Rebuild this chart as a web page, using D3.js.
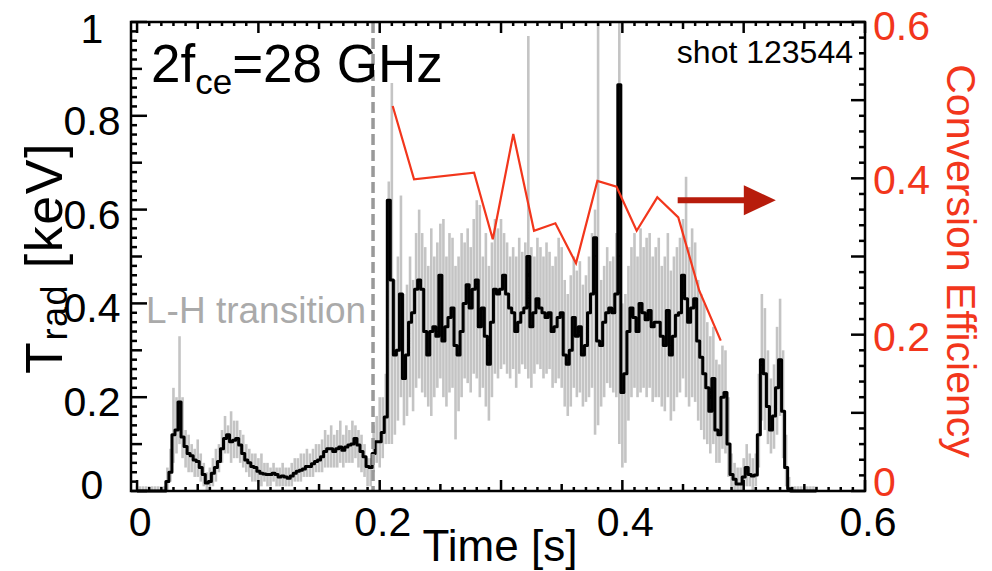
<!DOCTYPE html>
<html>
<head>
<meta charset="utf-8">
<script src="https://d3js.org/d3.v7.min.js"></script>
<style>
  body { margin: 0; background: #fff; }
  text { font-family: "Liberation Sans", Arial, Helvetica, sans-serif; }
</style>
</head>
<body>
<script>
// ECE signal, sampled every dt seconds from t0
var t0 = 0, dt = 0.0025;

// smoothed T_rad [keV] (black)
var tradSmooth = [
  0,0,0,0,0,0,0,0,0,0,
  0.02,0.04,0.12,0.13,0.19,0.115,0.095,0.08,0.075,0.066,
  0.063,0.05,0.035,0.017,0.02,0.038,0.05,0.063,0.09,0.112,
  0.12,0.105,0.108,0.112,0.098,0.08,0.066,0.06,0.052,0.05,
  0.042,0.038,0.036,0.035,0.035,0.038,0.035,0.03,0.032,0.03,
  0.027,0.032,0.038,0.042,0.044,0.047,0.052,0.052,0.058,0.063,
  0.066,0.073,0.084,0.09,0.09,0.084,0.09,0.094,0.087,0.094,
  0.098,0.1,0.112,0.098,0.084,0.073,0.052,0.05,0.08,0.105,
  0.105,0.125,0.158,0.62,0.45,0.29,0.30,0.42,0.24,0.29,
  0.36,0.38,0.43,0.45,0.43,0.34,0.29,0.34,0.35,0.33,
  0.46,0.32,0.35,0.37,0.39,0.31,0.29,0.34,0.40,0.44,
  0.39,0.43,0.45,0.35,0.39,0.33,0.27,0.36,0.43,0.42,
  0.43,0.46,0.42,0.39,0.38,0.34,0.36,0.38,0.39,0.50,
  0.35,0.38,0.41,0.39,0.38,0.37,0.38,0.34,0.35,0.37,
  0.38,0.29,0.27,0.30,0.37,0.33,0.35,0.29,0.31,0.38,
  0.42,0.54,0.32,0.31,0.36,0.38,0.39,0.38,0.42,0.866,
  0.21,0.25,0.34,0.39,0.37,0.34,0.40,0.38,0.365,0.385,
  0.35,0.36,0.36,0.33,0.31,0.385,0.29,0.33,0.375,0.38,
  0.46,0.41,0.36,0.39,0.41,0.32,0.285,0.25,0.22,0.17,
  0.24,0.13,0.12,0.20,0.21,0.10,0.035,0.025,0.015,0.015,
  0.03,0.05,0.035,0.032,0.034,0.12,0.28,0.25,0.18,0.13,
  0.16,0.22,0.28,0.17,0.05,0.005,0,0,0,0,
  0,0,0,0,0
];

// raw T_rad spread (grey): upper and lower values in each sample
var tradHigh = [
  0.01,0.01,0.01,0.01,0.01,0.01,0.01,0.01,0.01,0.01,
  0.05,0.09,0.22,0.2,0.33,0.2,0.13,0.12,0.1,0.09,
  0.11,0.08,0.06,0.04,0.05,0.07,0.09,0.1,0.13,0.16,
  0.14,0.17,0.15,0.15,0.13,0.12,0.1,0.09,0.08,0.08,
  0.07,0.08,0.06,0.06,0.05,0.06,0.05,0.05,0.06,0.05,
  0.05,0.06,0.07,0.07,0.08,0.08,0.09,0.08,0.09,0.1,
  0.1,0.11,0.13,0.12,0.14,0.12,0.13,0.15,0.12,0.14,
  0.13,0.15,0.14,0.13,0.12,0.1,0.07,0.07,0.14,0.16,
  0.2,0.2,0.25,0.66,0.87,0.45,0.5,0.63,0.42,0.44,
  0.5,0.45,0.55,0.6,0.55,0.52,0.48,0.56,0.5,0.53,
  0.57,0.58,0.5,0.55,0.54,0.48,0.5,0.55,0.53,0.56,
  0.52,0.58,0.62,0.61,0.5,0.55,0.48,0.53,0.58,0.56,
  0.58,0.55,0.53,0.5,0.52,0.5,0.54,0.51,0.53,0.97,
  0.52,0.5,0.54,0.52,0.5,0.53,0.51,0.48,0.5,0.54,
  0.52,0.45,0.42,0.46,0.5,0.47,0.49,0.44,0.46,0.5,
  0.55,0.6,1.0,0.45,0.48,0.52,0.49,0.5,0.55,1.0,
  0.4,0.42,0.48,0.52,0.55,0.5,0.56,0.52,0.54,0.55,
  0.5,0.52,0.54,0.48,0.5,0.55,0.47,0.5,0.52,0.54,
  0.58,0.67,0.52,0.56,0.53,0.45,0.42,0.4,0.36,0.33,
  0.35,0.28,0.27,0.31,0.3,0.2,0.08,0.06,0.05,0.05,
  0.07,0.1,0.08,0.07,0.08,0.25,0.42,0.39,0.3,0.24,
  0.27,0.35,0.41,0.3,0.12,0.03,0.01,0.01,0.01,0.01,
  0.01,0.01,0.01,0.01,0.01
];
var tradLow = [
  0,0,0,0,0,0,0,0,0,0,
  0,0.02,0.06,0.08,0.1,0.07,0.05,0.04,0.04,0.03,
  0.03,0.02,0.01,0,0,0.01,0.02,0.04,0.06,0.08,
  0.08,0.06,0.07,0.07,0.06,0.05,0.04,0.03,0.02,0.02,
  0.02,0.01,0.02,0.01,0.01,0.02,0.01,0.01,0.01,0.01,
  0.01,0.01,0.02,0.02,0.02,0.03,0.03,0.03,0.03,0.04,
  0.04,0.04,0.05,0.05,0.05,0.05,0.05,0.06,0.05,0.06,
  0.06,0.06,0.07,0.05,0.04,0.03,0.01,0.01,0.04,0.06,
  0.05,0.07,0.1,0.1,0.1,0.12,0.15,0.2,0.14,0.16,
  0.2,0.17,0.22,0.24,0.21,0.2,0.18,0.16,0.2,0.22,
  0.24,0.2,0.18,0.21,0.22,0.11,0.17,0.2,0.24,0.23,
  0.21,0.25,0.24,0.2,0.22,0.18,0.15,0.2,0.25,0.24,
  0.26,0.27,0.25,0.24,0.26,0.22,0.25,0.27,0.26,0.24,
  0.22,0.25,0.27,0.26,0.24,0.25,0.26,0.22,0.23,0.24,
  0.22,0.18,0.16,0.18,0.22,0.2,0.21,0.18,0.19,0.2,
  0.22,0.12,0.14,0.18,0.2,0.23,0.22,0.21,0.2,0.1,
  0.05,0.06,0.15,0.2,0.22,0.2,0.21,0.22,0.2,0.22,
  0.19,0.2,0.2,0.18,0.17,0.2,0.15,0.17,0.2,0.21,
  0.24,0.2,0.18,0.2,0.19,0.15,0.13,0.11,0.1,0.08,
  0.1,0.06,0.06,0.09,0.08,0.03,0,0,0,0,
  0,0.01,0.01,0,0.01,0.05,0.15,0.13,0.1,0.08,
  0.09,0.12,0.16,0.07,0.01,0,0,0,0,0,
  0,0,0,0,0
];

// conversion efficiency (red)
var effTime = [0.2107,0.2283,0.2778,0.2932,0.3101,0.3272,0.3448,0.3618,
               0.3794,0.3952,0.4118,0.4288,0.4461,0.4634,0.4811];
var effValue = [0.4925,0.3988,0.4072,0.3220,0.4567,0.3330,0.3425,0.2913,
                0.3966,0.3893,0.3330,0.3757,0.3501,0.2562,0.1923];

var lhTime = 0.1945;
var xTickLabels = [0, 0.2, 0.4, 0.6];
var yTickLabels = [0, 0.2, 0.4, 0.6, 0.8, 1];
var effTickLabels = [0, 0.2, 0.4, 0.6];

var width = 992, height = 571;
var pl = 131, pr = 865, pt = 22, pb = 491;
var red = "#f2361c";

var svg = d3.select("body").append("svg")
    .attr("width", width)
    .attr("height", height);

var x = d3.scaleLinear().domain([-0.005, 0.6]).range([pl, pr]);
var y = d3.scaleLinear().domain([0, 1]).range([pb, pt]);
var yEff = d3.scaleLinear().domain([0, 0.6]).range([pb, pt]);

var samples = tradSmooth.map(function(v, i) {
  return { t: t0 + i * dt, v: v, hi: tradHigh[i], lo: tradLow[i] };
});

// grey raw signal
svg.append("g").selectAll("line")
    .data(samples)
    .enter().append("line")
    .attr("x1", function(d) { return x(d.t); })
    .attr("x2", function(d) { return x(d.t); })
    .attr("y1", function(d) { return y(d.lo); })
    .attr("y2", function(d) { return y(d.hi); })
    .attr("stroke", "#c4c4c4")
    .attr("stroke-width", 2.6);

// black smoothed signal
svg.append("path")
    .datum(samples)
    .attr("fill", "none")
    .attr("stroke", "#000")
    .attr("stroke-width", 3)
    .attr("stroke-linejoin", "round")
    .attr("d", d3.line()
        .curve(d3.curveStep)
        .x(function(d) { return x(d.t); })
        .y(function(d) { return y(d.v); }));

// L-H transition marker
svg.append("line")
    .attr("x1", x(lhTime)).attr("x2", x(lhTime))
    .attr("y1", pt).attr("y2", pb)
    .attr("stroke", "#999")
    .attr("stroke-width", 3.5)
    .attr("stroke-dasharray", "11,5");

// conversion efficiency
var effData = effTime.map(function(t, i) { return [t, effValue[i]]; });
svg.append("path")
    .datum(effData)
    .attr("fill", "none")
    .attr("stroke", red)
    .attr("stroke-width", 2.2)
    .attr("d", d3.line()
        .x(function(d) { return x(d[0]); })
        .y(function(d) { return yEff(d[1]); }));

// arrow pointing to the right axis
var ay = y(0.62), ax0 = x(0.4456), ax1 = x(0.5265);
svg.append("line")
    .attr("x1", ax0).attr("x2", ax1 - 28)
    .attr("y1", ay).attr("y2", ay)
    .attr("stroke", "#b71c0c")
    .attr("stroke-width", 6);
svg.append("path")
    .attr("d", "M" + (ax1 - 32) + "," + (ay - 15) + "L" + ax1 + "," + ay + "L" + (ax1 - 32) + "," + (ay + 15) + "Z")
    .attr("fill", "#b71c0c");

// frame
svg.append("rect")
    .attr("x", pl).attr("y", pt)
    .attr("width", pr - pl).attr("height", pb - pt)
    .attr("fill", "none")
    .attr("stroke", "#000")
    .attr("stroke-width", 2.5);

function near(v, step) {
  return Math.abs(v / step - Math.round(v / step)) < 1e-6;
}

// tick marks, drawn inward on all four sides
var xt = d3.range(0, 61).map(function(i) { return i / 100; });
function xLen(v) { return near(v, 0.1) ? 11 : near(v, 0.05) ? 7 : 4; }
var yt = d3.range(0, 51).map(function(i) { return i / 50; });
function yLen(v) { return near(v, 0.2) ? 16 : near(v, 0.1) ? 11 : 6; }
var et = d3.range(0, 31).map(function(i) { return i / 50; });
function eLen(v) { return near(v, 0.1) ? 14 : 6; }

var ticks = svg.append("g").attr("stroke", "#000").attr("stroke-width", 2.5);
xt.forEach(function(v) {
  ticks.append("line").attr("x1", x(v)).attr("x2", x(v)).attr("y1", pb).attr("y2", pb - xLen(v));
  ticks.append("line").attr("x1", x(v)).attr("x2", x(v)).attr("y1", pt).attr("y2", pt + xLen(v));
});
yt.forEach(function(v) {
  ticks.append("line").attr("x1", pl).attr("x2", pl + yLen(v)).attr("y1", y(v)).attr("y2", y(v));
});
et.forEach(function(v) {
  ticks.append("line").attr("x1", pr).attr("x2", pr - eLen(v)).attr("y1", yEff(v)).attr("y2", yEff(v));
});

// tick labels (the end labels sit inside the axis range, as in the original)
var fmt = function(v) { return v === 0 ? "0" : v === 1 ? "1" : d3.format(".1f")(v); };
function labelY(py) { return Math.min(Math.max(py + 4, 28), 484) + 15; }
svg.append("g").selectAll("text")
    .data(xTickLabels)
    .enter().append("text")
    .attr("x", function(d) { return x(d) + 3; })
    .attr("y", 536)
    .attr("text-anchor", "middle")
    .attr("font-size", 41)
    .text(fmt);
svg.append("g").selectAll("text")
    .data(yTickLabels)
    .enter().append("text")
    .attr("x", 92)
    .attr("y", function(d) { return labelY(y(d)); })
    .attr("text-anchor", "middle")
    .attr("font-size", 41)
    .text(fmt);
svg.append("g").selectAll("text")
    .data(effTickLabels)
    .enter().append("text")
    .attr("x", 873)
    .attr("y", function(d) { return labelY(yEff(d)) - 3; })
    .attr("fill", red)
    .attr("font-size", 41)
    .text(fmt);

// axis titles
svg.append("text")
    .attr("x", 500).attr("y", 561)
    .attr("text-anchor", "middle")
    .attr("font-size", 44)
    .text("Time [s]");

var yl = svg.append("text")
    .attr("transform", "translate(62,258) rotate(-90)")
    .attr("text-anchor", "middle")
    .attr("letter-spacing", 1.5)
    .attr("font-size", 52);
yl.append("tspan").text("T");
yl.append("tspan").attr("font-size", 36).attr("dy", 5).text("rad");
yl.append("tspan").attr("dy", -5).text(" [keV]");

svg.append("text")
    .attr("transform", "translate(947,261) rotate(90)")
    .attr("text-anchor", "middle")
    .attr("fill", red)
    .attr("font-size", 41)
    .text("Conversion Efficiency");

// annotations
var ttl = svg.append("text")
    .attr("x", 151).attr("y", 82)
    .attr("font-size", 53);
ttl.append("tspan").text("2f");
ttl.append("tspan").attr("font-size", 35).attr("dy", 12).text("ce");
ttl.append("tspan").attr("dy", -12).text("=28 GHz");

svg.append("text")
    .attr("x", 853).attr("y", 63)
    .attr("text-anchor", "end")
    .attr("font-size", 32)
    .text("shot 123544");

svg.append("text")
    .attr("x", 146).attr("y", 323)
    .attr("fill", "#aaa")
    .attr("font-size", 37)
    .text("L-H transition");
</script>
</body>
</html>
